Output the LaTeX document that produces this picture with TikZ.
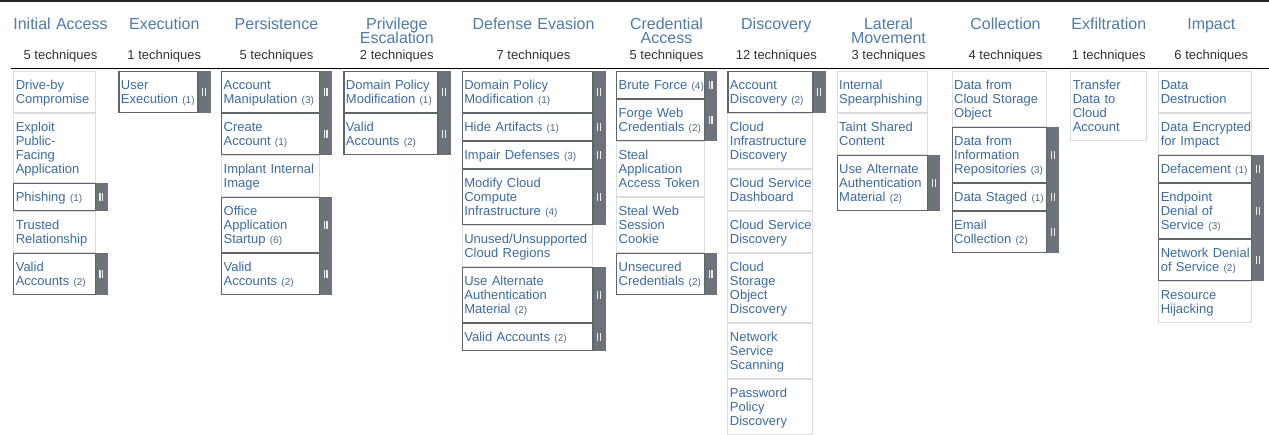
\documentclass[tikz,border=0pt]{standalone}
\usepackage{fontspec}
\setmainfont{Liberation Sans}
\usetikzlibrary{positioning}
\definecolor{tacblue}{HTML}{4F7CAC}
\definecolor{techblue}{HTML}{3B6BA5}
\definecolor{cntgray}{HTML}{4E6A88}
\definecolor{lightedge}{HTML}{DDDDDD}
\definecolor{darkedge}{HTML}{5F656C}
\definecolor{barfill}{HTML}{6C737A}
\definecolor{topbar}{HTML}{222222}
\newcommand{\cnt}[1]{~{\fontsize{10}{14}\selectfont\color{cntgray}(#1)}}
\newcommand{\cellstrut}{\vrule height 11pt depth 3pt width 0pt}
\newcommand{\hdstrut}{\vrule height 12pt depth 2pt width 0pt}
\newcommand{\nohyph}{\hyphenpenalty=10000\exhyphenpenalty=10000\hbadness=10000\hfuzz=30pt}
\tikzset{
  tactic/.style={anchor=north, inner sep=0pt, text width=130pt, align=center, text=tacblue,
    font=\fontsize{16}{14}\selectfont,
    execute at begin node={\lineskiplimit=-50pt\noindent\hdstrut}, execute at end node=\hdstrut},
  count/.style={anchor=base, inner sep=0pt, text=black!80, font=\fontsize{13}{14}\selectfont},
  tech/.style={draw=lightedge, line width=1pt, fill=white, anchor=north west, inner xsep=2pt,
    inner ysep=0pt, align=left, text=techblue, font=\fontsize{13}{14}\selectfont,
    minimum height=14*#1+13,
    execute at begin node={\nohyph\lineskiplimit=-50pt\noindent\cellstrut}, execute at end node=\cellstrut},
  tech/.default=1,
  sub/.style={tech=#1, draw=darkedge, line width=1.3pt, minimum height=14*#1+12.7},
  sub/.default=1,
}
\begin{document}
\begin{tikzpicture}[x=1pt,y=-1pt]
\useasboundingbox (0,0) rectangle (1269,434);
\fill[white] (0,0) rectangle (1269,434);
\fill[topbar] (0,0) rectangle (1269,2);
\draw[line width=1.5pt] (11,68.5) -- (1269,68.5);

% Initial Access
\begin{scope}[tech/.append style={text width=77.4pt}]
  \node[tactic] (iaT) at (60.5,17.7) {Initial Access};
  \node[count] (iaN) at (60.5,59) {5 techniques};
  \node[tech=2] (ia1) at (13.3,71) {Drive-by\\Compromise};
  \node[tech=4, below=0pt of ia1] (ia2) {Exploit\\Public-\\Facing\\Application};
  \node[sub, below=0pt of ia2] (ia3) {Phishing\cnt{1}};
  \node[tech=2, below=0pt of ia3] (ia4) {Trusted\\Relationship};
  \node[sub=2, below=0pt of ia4] (ia5) {Valid\\Accounts\cnt{2}};
\end{scope}

% Execution
\begin{scope}[tech/.append style={text width=75pt}]
  \node[tactic] (exT) at (164.3,17.7) {Execution};
  \node[count] (exN) at (164.3,59) {1 techniques};
  \node[sub=2] (ex1) at (118.3,71) {User\\Execution\cnt{1}};
\end{scope}

% Persistence
\begin{scope}[tech/.append style={text width=94pt}]
  \node[tactic] (peT) at (276.5,17.7) {Persistence};
  \node[count] (peN) at (276.5,59) {5 techniques};
  \node[sub=2] (pe1) at (221,71) {Account\\Manipulation\cnt{3}};
  \node[sub=2, below=0pt of pe1] (pe2) {Create\\Account\cnt{1}};
  \node[tech=2, below=0pt of pe2] (pe3) {Implant~Internal\\Image};
  \node[sub=3, below=0pt of pe3] (pe4) {Office\\Application\\Startup\cnt{6}};
  \node[sub=2, below=0pt of pe4] (pe5) {Valid\\Accounts\cnt{2}};
\end{scope}

% Privilege Escalation
\begin{scope}[tech/.append style={text width=90pt}]
  \node[tactic] (prT) at (396.8,17.7) {Privilege\\Escalation};
  \node[count] (prN) at (396.8,59) {2 techniques};
  \node[sub=2] (pr1) at (343.3,71) {Domain Policy\\Modification\cnt{1}};
  \node[sub=2, below=0pt of pr1] (pr2) {Valid\\Accounts\cnt{2}};
\end{scope}

% Defense Evasion
\begin{scope}[tech/.append style={text width=126.6pt}]
  \node[tactic] (deT) at (533.5,17.7) {Defense Evasion};
  \node[count] (deN) at (533.5,59) {7 techniques};
  \node[sub=2] (de1) at (461.7,71) {Domain Policy\\Modification\cnt{1}};
  \node[sub, below=0pt of de1] (de2) {Hide Artifacts\cnt{1}};
  \node[sub, below=0pt of de2] (de3) {Impair Defenses\cnt{3}};
  \node[sub=3, below=0pt of de3] (de4) {Modify Cloud\\Compute\\Infrastructure\cnt{4}};
  \node[tech=2, below=0pt of de4] (de5) {Unused/Unsupported\\Cloud Regions};
  \node[sub=3, below=0pt of de5] (de6) {Use Alternate\\Authentication\\Material\cnt{2}};
  \node[sub, below=0pt of de6] (de7) {Valid Accounts\cnt{2}};
\end{scope}

% Credential Access
\begin{scope}[tech/.append style={text width=84pt}]
  \node[tactic] (caT) at (666.5,17.7) {Credential\\Access};
  \node[count] (caN) at (666.5,59) {5 techniques};
  \node[sub] (ca1) at (616,71) {Brute~Force\cnt{4}};
  \node[sub=2, below=0pt of ca1] (ca2) {Forge Web\\Credentials\cnt{2}};
  \node[tech=3, below=0pt of ca2] (ca3) {Steal\\Application\\Access~Token};
  \node[tech=3, below=0pt of ca3] (ca4) {Steal Web\\Session\\Cookie};
  \node[sub=2, below=0pt of ca4] (ca5) {Unsecured\\Credentials\cnt{2}};
\end{scope}

% Discovery
\begin{scope}[tech/.append style={text width=81pt}]
  \node[tactic] (diT) at (776.3,17.7) {Discovery};
  \node[count] (diN) at (776.3,59) {12 techniques};
  \node[sub=2] (di1) at (727.3,71) {Account\\Discovery\cnt{2}};
  \node[tech=3, below=0pt of di1] (di2) {Cloud\\Infrastructure\\Discovery};
  \node[tech=2, below=0pt of di2] (di3) {Cloud~Service\\Dashboard};
  \node[tech=2, below=0pt of di3] (di4) {Cloud~Service\\Discovery};
  \node[tech=4, below=0pt of di4] (di5) {Cloud\\Storage\\Object\\Discovery};
  \node[tech=3, below=0pt of di5] (di6) {Network\\Service\\Scanning};
  \node[tech=3, below=0pt of di6] (di7) {Password\\Policy\\Discovery};
\end{scope}

% Lateral Movement
\begin{scope}[tech/.append style={text width=86.6pt}]
  \node[tactic] (lmT) at (888.5,17.7) {Lateral\\Movement};
  \node[count] (lmN) at (888.5,59) {3 techniques};
  \node[tech=2] (lm1) at (836.7,71) {Internal\\Spearphishing};
  \node[tech=2, below=0pt of lm1] (lm2) {Taint Shared\\Content};
  \node[sub=3, below=0pt of lm2] (lm3) {Use Alternate\\Authentication\\Material\cnt{2}};
\end{scope}

% Collection
\begin{scope}[tech/.append style={text width=90.6pt}]
  \node[tactic] (coT) at (1005.5,17.7) {Collection};
  \node[count] (coN) at (1005.5,59) {4 techniques};
  \node[tech=3] (co1) at (951.7,71) {Data from\\Cloud Storage\\Object};
  \node[sub=3, below=0pt of co1] (co2) {Data from\\Information\\Repositories\cnt{3}};
  \node[sub, below=0pt of co2] (co3) {Data~Staged\cnt{1}};
  \node[sub=2, below=0pt of co3] (co4) {Email\\Collection\cnt{2}};
\end{scope}

% Exfiltration
\begin{scope}[tech/.append style={text width=72pt}]
  \node[tactic] (efT) at (1108.8,17.7) {Exfiltration};
  \node[count] (efN) at (1108.8,59) {1 techniques};
  \node[tech=4] (ef1) at (1070.3,71) {Transfer\\Data to\\Cloud\\Account};
\end{scope}

% Impact
\begin{scope}[tech/.append style={text width=89pt}]
  \node[tactic] (imT) at (1211.3,17.7) {Impact};
  \node[count] (imN) at (1211.3,59) {6 techniques};
  \node[tech=2] (im1) at (1158.3,71) {Data\\Destruction};
  \node[tech=2, below=0pt of im1] (im2) {Data~Encrypted\\for Impact};
  \node[sub, below=0pt of im2] (im3) {Defacement\cnt{1}};
  \node[sub=3, below=0pt of im3] (im4) {Endpoint\\Denial of\\Service\cnt{3}};
  \node[sub=2, below=0pt of im4] (im5) {Network~Denial\\of Service\cnt{2}};
  \node[tech=2, below=0pt of im5] (im6) {Resource\\Hijacking};
\end{scope}

% sub-technique handles
\foreach \c in {ia3,ia5,ex1,pe1,pe2,pe4,pe5,pr1,pr2,de1,de2,de3,de4,de6,de7,
                ca1,ca2,ca5,di1,lm3,co2,co3,co4,im3,im4,im5}{
  \fill[barfill] (\c.north east) rectangle ([xshift=12pt]\c.south east);
  \fill[white!88!barfill] ([xshift=3.5pt,yshift=3.7pt]\c.east) rectangle ([xshift=4.8pt,yshift=-3.7pt]\c.east);
  \fill[white!88!barfill] ([xshift=6.1pt,yshift=3.7pt]\c.east) rectangle ([xshift=7.4pt,yshift=-3.7pt]\c.east);
}
\end{tikzpicture}
\end{document}
